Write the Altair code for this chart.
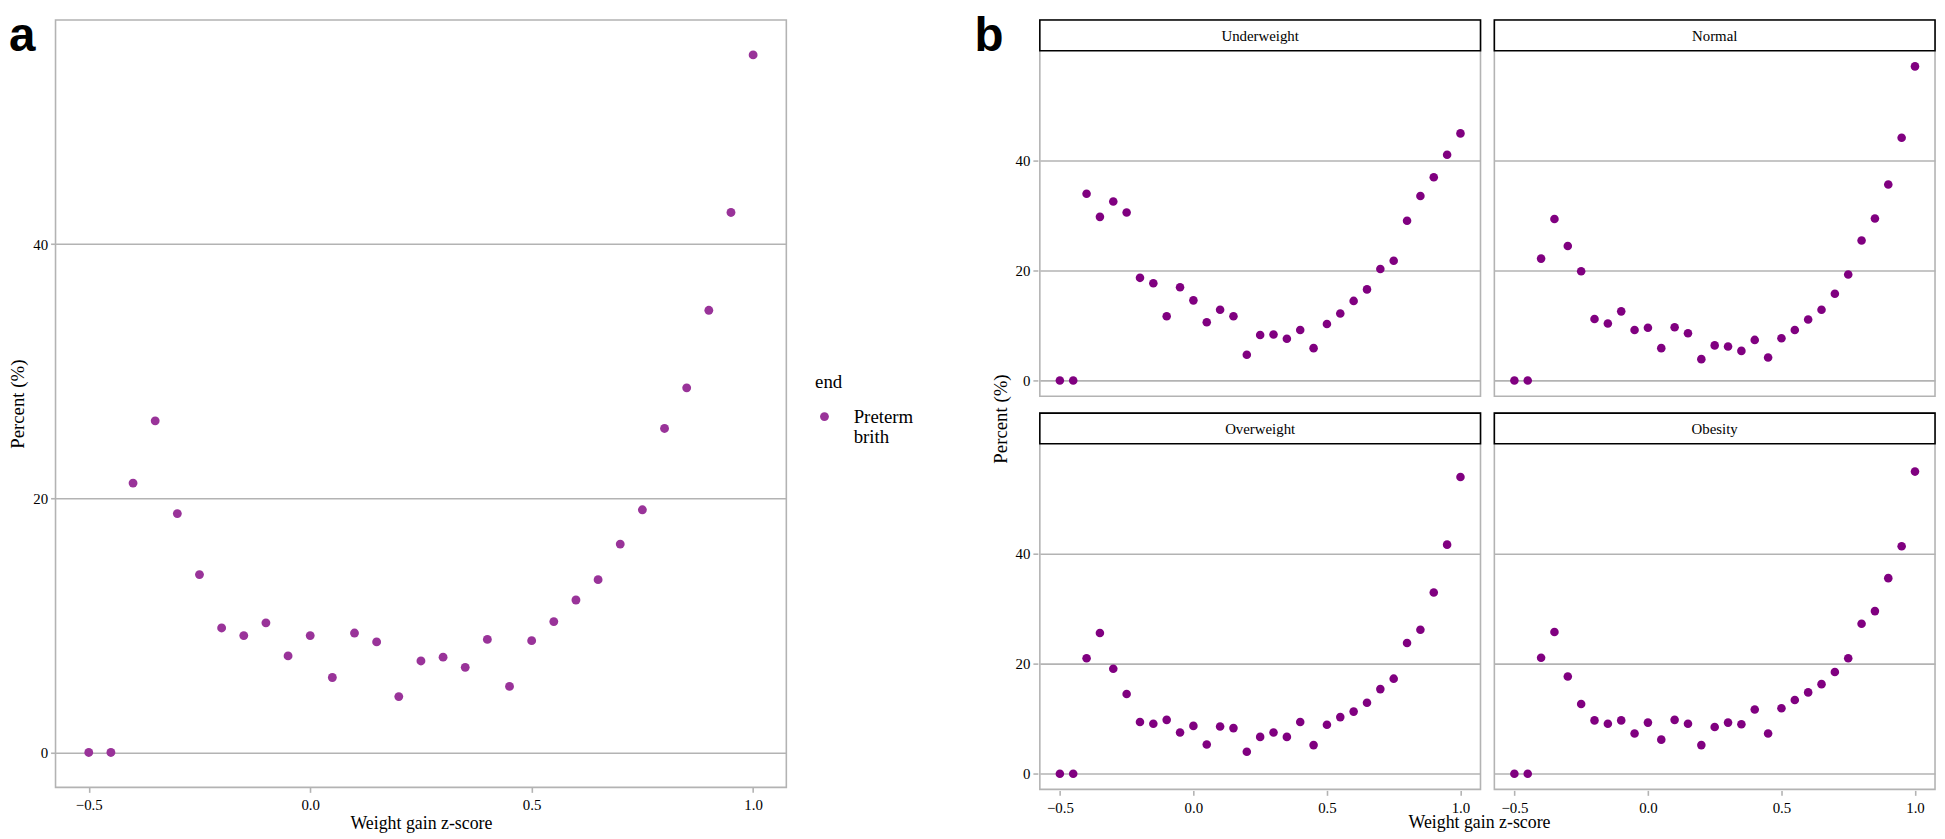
import altair as alt
import pandas as pd

# ---------------- data ----------------
z = [-0.5, -0.45, -0.4, -0.35, -0.3, -0.25, -0.2, -0.15, -0.1, -0.05, 0.0,
     0.05, 0.1, 0.15, 0.2, 0.25, 0.3, 0.35, 0.4, 0.45, 0.5,
     0.55, 0.6, 0.65, 0.7, 0.75, 0.8, 0.85, 0.9, 0.95, 1.0]

overall = [0, 0, 21.2, 26.1, 18.8, 14.0, 9.8, 9.2, 10.2, 7.6, 9.2,
           5.9, 9.4, 8.7, 4.4, 7.2, 7.5, 6.7, 8.9, 5.2, 8.8,
           10.3, 12.0, 13.6, 16.4, 19.1, 25.5, 28.7, 34.8, 42.5, 54.9]

underweight = [0, 0, 34.0, 29.8, 32.6, 30.6, 18.7, 17.7, 11.7, 17.0, 14.6,
               10.6, 12.9, 11.7, 4.7, 8.3, 8.4, 7.6, 9.2, 5.9, 10.3,
               12.2, 14.5, 16.6, 20.3, 21.8, 29.1, 33.6, 37.0, 41.1, 45.0]

normal = [0, 0, 22.2, 29.4, 24.5, 19.9, 11.2, 10.4, 12.6, 9.2, 9.6,
          5.9, 9.7, 8.6, 3.9, 6.4, 6.2, 5.4, 7.4, 4.2, 7.7,
          9.2, 11.1, 12.9, 15.8, 19.3, 25.5, 29.5, 35.7, 44.2, 57.2]

overweight = [0, 0, 21.0, 25.6, 19.1, 14.5, 9.4, 9.1, 9.8, 7.5, 8.7,
              5.3, 8.6, 8.3, 4.0, 6.7, 7.5, 6.7, 9.4, 5.2, 8.9,
              10.3, 11.3, 12.9, 15.4, 17.3, 23.8, 26.2, 33.0, 41.7, 54.0]

obesity = [0, 0, 21.1, 25.8, 17.7, 12.7, 9.7, 9.1, 9.7, 7.3, 9.3,
           6.2, 9.8, 9.1, 5.2, 8.5, 9.3, 9.0, 11.7, 7.3, 11.9,
           13.4, 14.8, 16.3, 18.5, 21.0, 27.3, 29.6, 35.6, 41.4, 55.0]

groups = ["Underweight", "Normal", "Overweight", "Obesity"]
outcome = "Preterm brith"
panel_labels = ["a", "b"]
x_title = "Weight gain z-score"
y_title = "Percent (%)"

x_ticks = [-0.5, 0.0, 0.5, 1.0]
y_ticks = [0, 20, 40]

# ---------------- style / layout ----------------
SERIF = "Liberation Serif"
SANS = "Liberation Sans"
GREY = "#b3b3b3"
PURPLE_A = "#993399"
PURPLE_B = "#800080"

A_LEFT = 55            # page x of panel a plot area
A_W, A_H = 738, 775
B_LEFT = 1043          # page x of panel b first cell
B_W, B_H = 445, 380
STRIP = 31
GAP = 256              # flush spacing between panel a and panel b
LAB_FS = 48
LAB_Y = 31.4

df_a = pd.DataFrame({"z": z, "pct": overall, "end": [outcome] * len(z)})

rows = []
for g, vals in zip(groups, [underweight, normal, overweight, obesity]):
    for zz, v in zip(z, vals):
        rows.append({"group": g, "z": zz, "pct": v})
df_b = pd.DataFrame(rows)

x_dom = [-0.575, 1.075]

# ---------------- panel a ----------------
pa_pts = alt.Chart(df_a).mark_circle(size=80, opacity=1).encode(
    x=alt.X("z:Q", scale=alt.Scale(domain=x_dom, nice=False, zero=False),
            axis=alt.Axis(values=x_ticks, format=".1f", grid=False,
                          title=x_title, titleFontSize=18)),
    y=alt.Y("pct:Q", scale=alt.Scale(domain=[-2.75, 57.65], nice=False, zero=False),
            axis=alt.Axis(values=y_ticks, title=y_title)),
    color=alt.Color("end:N", scale=alt.Scale(range=[PURPLE_A]),
                    legend=alt.Legend(title="end", orient="none",
                                      legendX=822 - A_LEFT, legendY=357,
                                      labelExpr="split(datum.label, ' ')",
                                      labelBaseline="middle")),
)

lab_a = alt.Chart(pd.DataFrame({"t": [panel_labels[0]]})).mark_text(
    font=SANS, fontSize=LAB_FS, fontWeight="bold", color="black",
    align="left", baseline="alphabetic"
).encode(x=alt.value(8 - A_LEFT), y=alt.value(LAB_Y), text="t:N")

lab_b = alt.Chart(pd.DataFrame({"t": [panel_labels[1]]})).mark_text(
    font=SANS, fontSize=LAB_FS, fontWeight="bold", color="black",
    align="left", baseline="alphabetic"
).encode(x=alt.value(983 - A_LEFT), y=alt.value(LAB_Y), text="t:N")

# shared axis titles of panel b (drawn once, centred on the 2x2 grid)
b_ytitle = alt.Chart(pd.DataFrame({"t": [y_title]})).mark_text(
    font=SERIF, fontSize=19, color="black", angle=270,
    align="center", baseline="middle"
).encode(x=alt.value(1010 - A_LEFT), y=alt.value(418 - 15), text="t:N")

b_xtitle = alt.Chart(pd.DataFrame({"t": [x_title]})).mark_text(
    font=SERIF, fontSize=18, color="black", align="center", baseline="alphabetic"
).encode(x=alt.value(B_LEFT + B_W + 5 - A_LEFT), y=alt.value(831 - 15), text="t:N")

pa = alt.layer(pa_pts, lab_a, lab_b, b_ytitle, b_xtitle).properties(width=A_W, height=A_H)

# ---------------- panel b ----------------
yb_dom_max = 60.06 + STRIP * (62.92 / (B_H - STRIP))
pts = alt.Chart().mark_circle(size=75, opacity=1, color=PURPLE_B).encode(
    x=alt.X("z:Q", scale=alt.Scale(domain=x_dom, nice=False, zero=False),
            axis=alt.Axis(values=x_ticks, format=".1f", grid=False, title=None)),
    y=alt.Y("pct:Q", scale=alt.Scale(domain=[-2.86, yb_dom_max], nice=False, zero=False),
            axis=alt.Axis(values=y_ticks, title=None)),
)
strip = alt.Chart().mark_rect(fill="white", stroke="black", strokeWidth=1.6).encode(
    x=alt.value(0), x2=alt.value(B_W), y=alt.value(0), y2=alt.value(STRIP)
).transform_filter("datum.z == 1")
strip_text = alt.Chart().mark_text(font=SERIF, fontSize=15, color="black",
                                   baseline="middle", align="center").encode(
    x=alt.value(B_W / 2), y=alt.value(STRIP / 2 + 1), text="group:N"
).transform_filter("datum.z == 1")

pb = alt.layer(pts, strip, strip_text, data=df_b).properties(
    width=B_W, height=B_H
).facet(
    facet=alt.Facet("group:N", sort=groups, title=None,
                    header=alt.Header(labels=False, labelExpr="''", labelFontSize=1,
                                      labelPadding=0, title=None)),
    columns=2,
    spacing={"row": 13, "column": 10},
)

chart = alt.hconcat(pa, pb, spacing=GAP, bounds="flush").properties(
    padding={"left": 0, "top": 0, "right": 0, "bottom": 0}
).configure_view(
    stroke=GREY, strokeWidth=1.6
).configure_axis(
    domain=False, tickColor=GREY, tickWidth=1.6, tickSize=5,
    labelFont=SERIF, labelFontSize=15, labelColor="black", labelPadding=3,
    titleFont=SERIF, titleFontSize=19, titleFontWeight="normal", titleColor="black",
    gridColor=GREY, gridWidth=1.6,
).configure_axisX(labelPadding=5, titlePadding=3).configure_axisY(titlePadding=5).configure_header(
    labels=False, title=None
).configure_legend(
    titleFont=SERIF, titleFontSize=19, titleFontWeight="normal", titleColor="black",
    labelFont=SERIF, labelFontSize=19, labelColor="black",
    symbolType="circle", symbolSize=80, symbolStrokeWidth=0, labelOffset=20,
    titlePadding=15,
)

chart.save("out.html", embed_options={"renderer": "svg", "actions": False})
